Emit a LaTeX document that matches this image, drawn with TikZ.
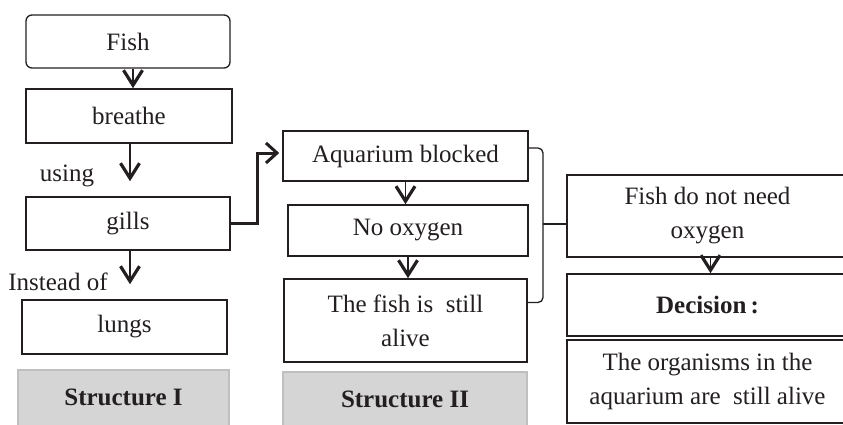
\documentclass[tikz,border=0pt]{standalone}
\usepackage{fontspec}
\setmainfont{Liberation Serif}
\usetikzlibrary{arrows.meta}
\definecolor{ink}{HTML}{231F20}
\tikzset{
  box/.style={draw=ink, line width=1.6pt, fill=white, align=center, inner sep=0pt, text=ink,
    font=\fontsize{25}{34}\selectfont},
  lbl/.style={text=ink, inner sep=0pt, font=\fontsize{25}{30}\selectfont},
  structbox/.style={draw=gray!50, line width=1.2pt, fill=gray!33},
  structtext/.style={text=ink, inner sep=0pt, font=\fontsize{25}{30}\selectfont\bfseries},
  vtip/.style={-{Straight Barb[length=15pt,width=19pt,line width=3.2pt]}, line width=1.8pt, draw=ink},
  link/.style={line width=3pt, draw=ink, -{Straight Barb[length=11pt,width=20pt,line width=3pt]}},
  brace/.style={line width=1.3pt, draw=ink, rounded corners=5pt}
}
\begin{document}
\begin{tikzpicture}[x=1pt,y=-1pt]
\useasboundingbox (0,0) rectangle (843,425);
\clip (0,0) rectangle (843,425);
% Structure I
\node[box, rounded corners=6pt, line width=1.3pt, minimum width=204pt, minimum height=53pt] (fish) at (128,41.5) {Fish};
\node[box, minimum width=206pt, minimum height=54pt] (breathe) at (129,116) {breathe};
\node[box, minimum width=204pt, minimum height=53pt] (gills) at (128,223.5) {gills};
\node[box, minimum width=205pt, minimum height=54pt] (lungs) at (124.5,327) {lungs};
\node[lbl] (using) at (67,176) {using};
\node[lbl] (instead) at (58,282) {Instead of};
\path[structbox] (18,370) rectangle (229,432);
\node[structtext] (s1) at (123.5,397) {Structure I};
% Structure II
\node[box, minimum width=245pt, minimum height=50pt] (aq) at (405.5,156) {Aquarium blocked};
\node[box, minimum width=240pt, minimum height=51pt] (nox) at (408,230.5) {No oxygen};
\node[box, minimum width=243pt, minimum height=83pt] (alive) at (405.5,320.5) {The fish is\ \ still\\alive};
\path[structbox] (283,372) rectangle (527,432);
\node[structtext] (s2) at (405,399) {Structure II};
% right column
\node[box, minimum width=281pt, minimum height=82pt] (need) at (707.5,216) {Fish do not need\\oxygen};
\node[box, minimum width=281pt, minimum height=62pt] (dec) at (707.5,305) {\bfseries Decision\,:};
\node[box, minimum width=281pt, minimum height=83pt] (org) at (707.5,381.5) {The organisms in the\\aquarium are\ \ still alive};
% arrows
\draw[vtip] ([xshift=5pt]fish.south) -- ([xshift=5pt]fish.south |- breathe.north);
\draw[vtip] ([xshift=1pt]breathe.south) -- ([xshift=1pt,yshift=15pt]breathe.south |- gills.north);
\draw[vtip] ([xshift=2pt]gills.south) -- ([xshift=2pt,yshift=15pt]gills.south |- lungs.north);
\draw[vtip] (aq.south) -- (aq.south |- nox.north);
\draw[vtip] (nox.south) -- (nox.south |- alive.north);
\draw[vtip] ([xshift=3pt]need.south) -- ([xshift=3pt]need.south |- dec.north);
\draw[link] (gills.east) -- ++(27,0) |- ([xshift=-3pt,yshift=3pt]aq.west);
% bracket
\coordinate (bmid) at (543,224);
\draw[brace] ([yshift=8pt]aq.east) -| (bmid);
\draw[brace] ([yshift=18pt]alive.east) -| (bmid);
\draw[line width=1.3pt, draw=ink] (bmid) -- (need.west |- bmid);
\end{tikzpicture}
\end{document}
